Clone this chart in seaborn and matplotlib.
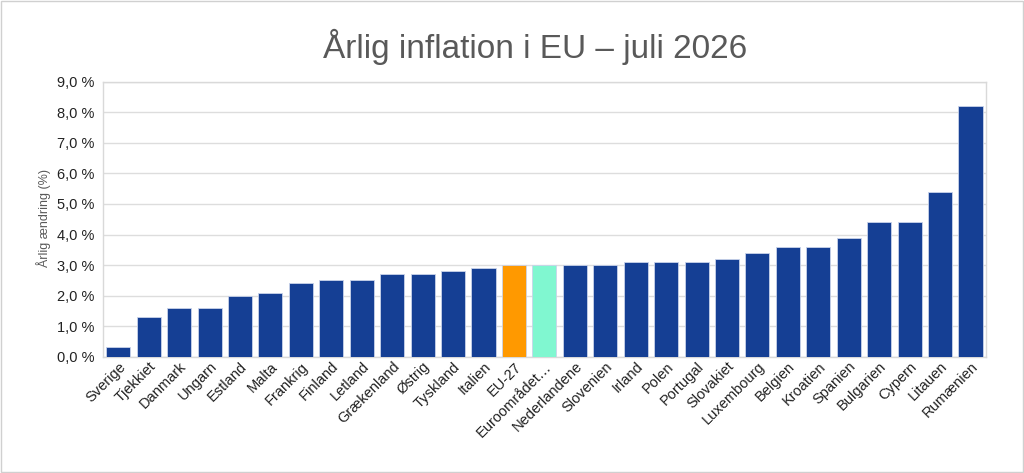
import numpy as np
import pandas as pd
import seaborn as sns
import matplotlib.pyplot as plt
from matplotlib.ticker import FuncFormatter

countries = ["Sverige", "Tjekkiet", "Danmark", "Ungarn", "Estland", "Malta",
             "Frankrig", "Finland", "Letland", "Grækenland", "Østrig", "Tyskland",
             "Italien", "EU-27", "Euroområdet…", "Nederlandene", "Slovenien",
             "Irland", "Polen", "Portugal", "Slovakiet", "Luxembourg", "Belgien",
             "Kroatien", "Spanien", "Bulgarien", "Cypern", "Litauen", "Rumænien"]
inflation = [0.3, 1.3, 1.6, 1.6, 2.0, 2.1, 2.4, 2.5, 2.5, 2.7, 2.7, 2.8,
             2.9, 3.0, 3.0, 3.0, 3.0, 3.1, 3.1, 3.1, 3.2, 3.4, 3.6, 3.6,
             3.9, 4.4, 4.4, 5.4, 8.2]
y_ticks = [0, 1, 2, 3, 4, 5, 6, 7, 8, 9]

blue = "#153f94"
colors = {c: blue for c in countries}
colors["EU-27"] = "#ff9900"
colors["Euroområdet…"] = "#80f7d0"

df = pd.DataFrame({"land": countries, "inflation": inflation})

sns.set_style("white")
plt.rcParams["font.family"] = ["Liberation Sans", "DejaVu Sans"]

fig = plt.figure(figsize=(10.24, 4.73), dpi=100)
ax = fig.add_axes([0.1006, 0.246, 0.862, 0.581])

sns.barplot(data=df, x="land", y="inflation", hue="land", palette=colors,
            legend=False, width=0.79, edgecolor="#c9d3ea", linewidth=0.6,
            saturation=1, ax=ax, zorder=3)

ax.set_ylim(0, 9)
ax.set_xlim(-0.5, len(countries) - 0.5)
ax.set_yticks(y_ticks)
ax.yaxis.set_major_formatter(FuncFormatter(lambda v, p: f"{v:.1f} %".replace(".", ",")))
ax.grid(axis="y", color="#dddddd", linewidth=1, zorder=0)
for s in ax.spines.values():
    s.set_color("#d9d9d9")
    s.set_linewidth(1)

ax.tick_params(axis="y", labelsize=10.5, colors="#222222", length=0, pad=6)
ax.tick_params(axis="x", length=0, pad=2)
plt.setp(ax.get_xticklabels(), rotation=45, ha="right", rotation_mode="anchor",
         fontsize=10.5, color="#222222")

ax.set_xlabel("")
ax.set_ylabel("Årlig ændring (%)", fontsize=9, color="#595959")
ax.yaxis.set_label_coords(-0.059, 0.505)

fig.text(0.5225, 0.877, "Årlig inflation i EU – juli 2026", ha="center", va="baseline",
         fontsize=24, color="#595959")

border = plt.Rectangle((0.001, 0.002), 0.998, 0.996, transform=fig.transFigure,
                       fill=False, edgecolor="#d0d0d0", linewidth=1)
fig.patches.append(border)

fig.savefig("out.png", dpi=100)
